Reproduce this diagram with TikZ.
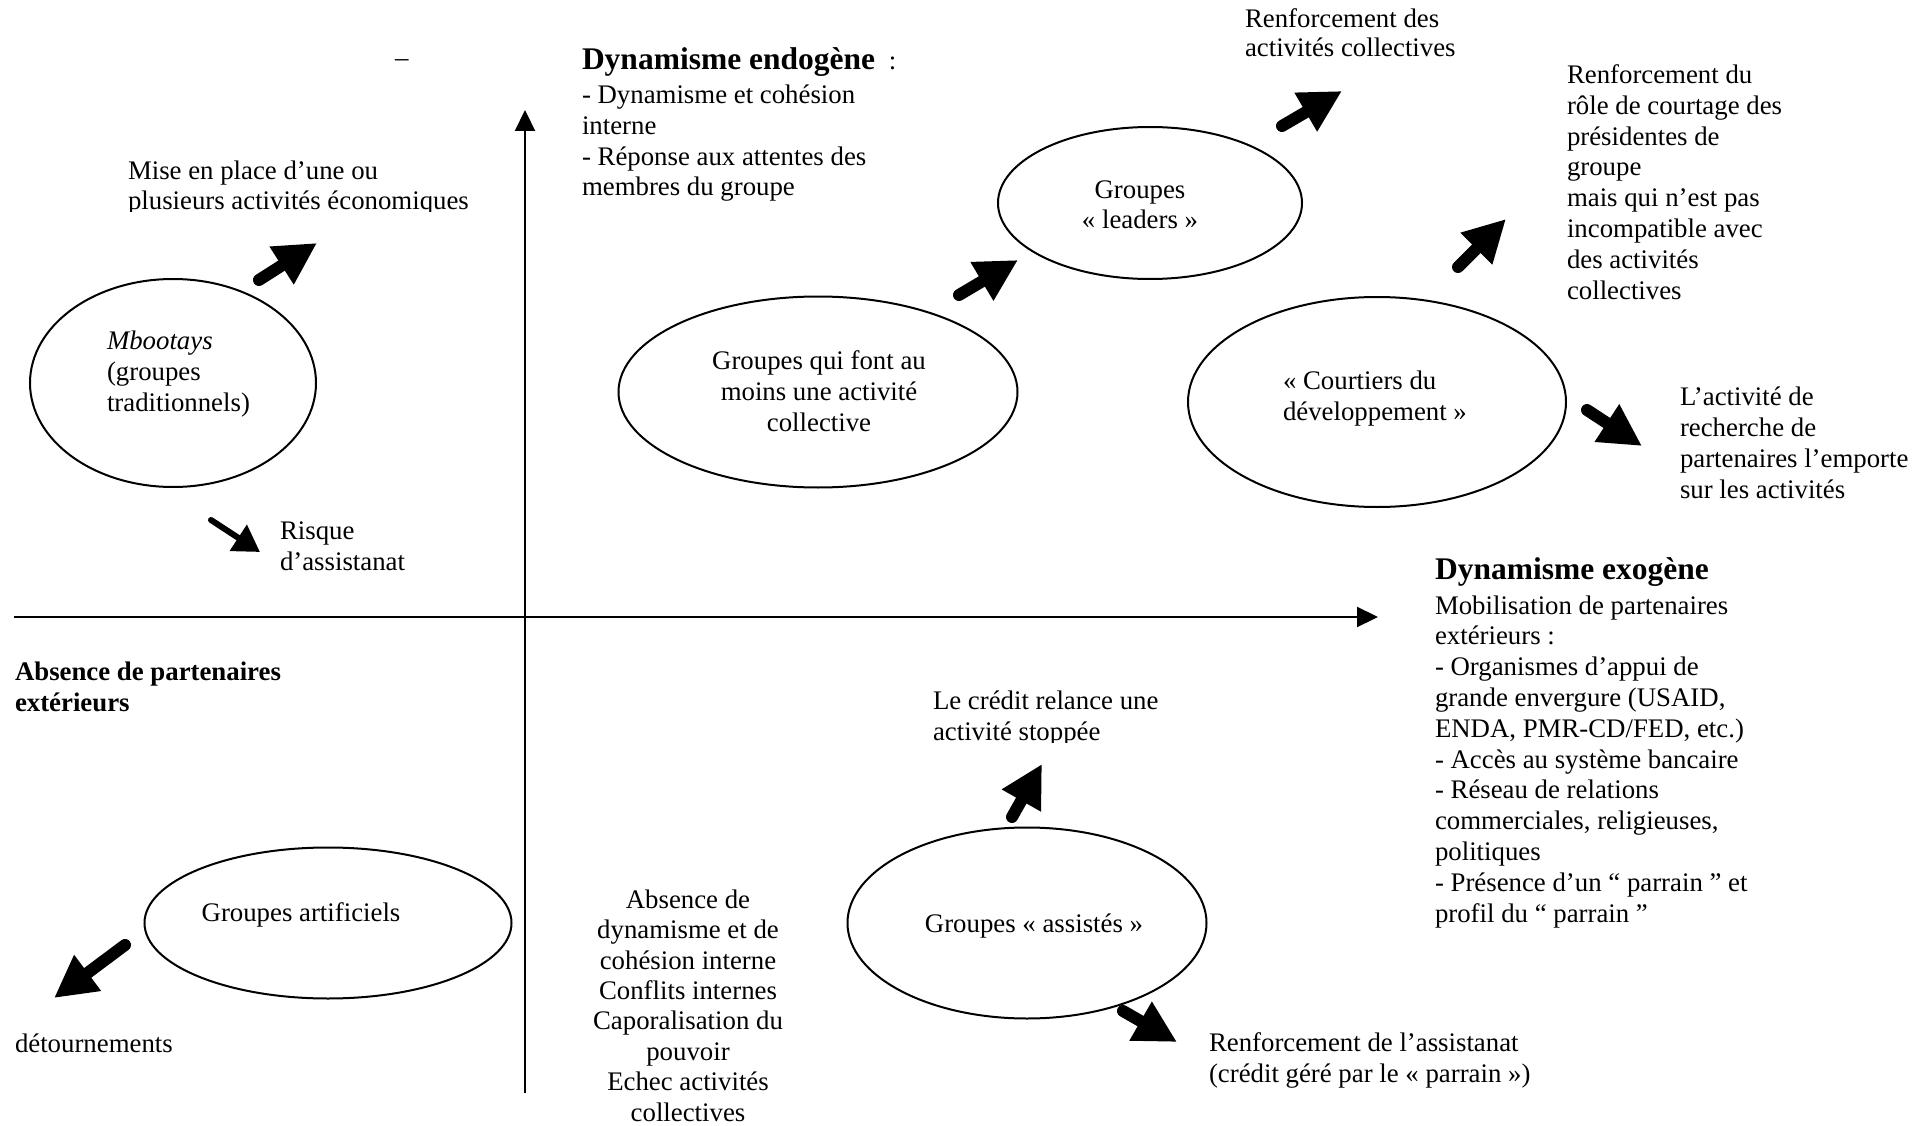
\documentclass[tikz,border=0pt]{standalone}
\usepackage{fontspec}
\setmainfont{Liberation Serif}
\usetikzlibrary{arrows.meta,shapes.geometric}
\begin{document}
\begin{tikzpicture}[x=1pt,y=-1pt,
  every node/.style={inner sep=0pt, outer sep=0pt, font=\fontsize{26.8}{30.8}\selectfont},
  txt/.style={anchor=base west, align=left},
  ctxt/.style={anchor=base, align=center},
  grp/.style={draw, ellipse, line width=2pt},
  axis/.style={line width=2.2pt, -{Triangle[length=21pt,width=20pt]}},
  bigarrow/.style={line width=12pt, line cap=round, -{Triangle[length=42pt,width=42pt]}},
  smallarrow/.style={line width=6pt, line cap=round, -{Triangle[length=26pt,width=30pt]}},
  headfont/.style={font=\fontsize{31.5}{36}\selectfont\bfseries}
]
\useasboundingbox (0,0) rectangle (1931,1126);

% axes (multi-line text nodes below are anchored at the baseline of their LAST line)
\coordinate (vbot) at (525,1093);
\coordinate (vtop) at (525,110);
\coordinate (hleft) at (14,617);
\coordinate (hright) at (1378,617);
\draw[axis] (vbot) -- (vtop);
\draw[axis] (hleft) -- (hright);

% ellipses
\node[grp, minimum width=286pt, minimum height=208pt] (mboo) at (173,383) {};
\node[grp, minimum width=399pt, minimum height=191pt] (coll) at (818,392) {};
\node[grp, minimum width=304pt, minimum height=152pt] (lead) at (1150,203) {};
\node[grp, minimum width=378pt, minimum height=210pt] (court) at (1377,402) {};
\node[grp, minimum width=367pt, minimum height=151pt] (artif) at (328,923) {};
\node[grp, minimum width=359pt, minimum height=191pt] (assist) at (1027,923) {};

% texts
\node[txt] (dash) at (395,67) {–};
\node[txt] (endo) at (582,70) {{\fontsize{31.5}{36}\selectfont\bfseries Dynamisme endogène}\hspace{7pt} :};
\node[txt] (endolist) at (582,196) {- Dynamisme et cohésion\\interne\\- Réponse aux attentes des\\membres du groupe};
\begin{scope}
\clip (100,140) rectangle (520,212);
\node[txt] (mise) at (128,210) {Mise en place d’une ou\\plusieurs activités économiques};
\end{scope}
\node[txt] (mbootxt) at (107,411) {\textit{Mbootays}\\(groupes\\traditionnels)};
\node[txt] (risque) at (280,570) {Risque\\d’assistanat};
\node[ctxt] (colltxt) at (819,431) {Groupes qui font au\\moins une activité\\collective};
\node[ctxt] (leadtxt) at (1140,229) {Groupes\\« leaders »};
\node[txt, font=\fontsize{26.8}{29.6}\selectfont] (renfcoll) at (1245,57) {Renforcement des\\activités collectives};
\node[txt] (renfcourt) at (1567,299) {Renforcement du\\rôle de courtage des\\présidentes de\\groupe\\mais qui n’est pas\\incompatible avec\\des activités\\collectives};
\node[txt] (courttxt) at (1283,420) {« Courtiers du\\développement »};
\node[txt] (recherche) at (1680,498) {L’activité de\\recherche de\\partenaires l’emporte\\sur les activités};
\node[txt, headfont] (exo) at (1435,579) {Dynamisme exogène};
\node[txt] (exolist) at (1435,922) {Mobilisation de partenaires\\extérieurs :\\- Organismes d’appui de\\grande envergure (USAID,\\ENDA, PMR-CD/FED, etc.)\\- Accès au système bancaire\\- Réseau de relations\\commerciales, religieuses,\\politiques\\- Présence d’un “ parrain ” et\\profil du “ parrain ”};
\node[txt] (absence) at (15,711) {\textbf{Absence de partenaires}\\\textbf{extérieurs}};
\node[ctxt] (artiftxt) at (301,921) {Groupes artificiels};
\node[txt] (detour) at (15,1052) {détournements};
\node[ctxt, font=\fontsize{26.8}{30.4}\selectfont] (absdyn) at (688,1121) {Absence de\\dynamisme et de\\cohésion interne\\Conflits internes\\Caporalisation du\\pouvoir\\Echec activités\\collectives};
\begin{scope}
\clip (900,670) rectangle (1200,742);
\node[txt] (credit) at (933,740) {Le crédit relance une\\activité stoppée};
\end{scope}
\node[ctxt] (assisttxt) at (1034,932) {Groupes « assistés »};
\node[txt] (renfassist) at (1209,1082) {Renforcement de l’assistanat\\(crédit géré par le « parrain »)};

% block arrows
\coordinate (aT) at (259,280); \coordinate (aH) at (317,243);
\draw[bigarrow] (aT) -- (aH);
\coordinate (bT) at (211,520); \coordinate (bH) at (260,552);
\draw[smallarrow] (bT) -- (bH);
\coordinate (cT) at (959,295); \coordinate (cH) at (1018,260);
\draw[bigarrow] (cT) -- (cH);
\coordinate (dT) at (1282,126); \coordinate (dH) at (1342,91);
\draw[bigarrow] (dT) -- (dH);
\coordinate (eT) at (1458,267); \coordinate (eH) at (1506,219);
\draw[bigarrow] (eT) -- (eH);
\coordinate (fT) at (1587,410); \coordinate (fH) at (1642,446);
\draw[bigarrow] (fT) -- (fH);
\coordinate (gT) at (125,945); \coordinate (gH) at (54,998);
\draw[bigarrow] (gT) -- (gH);
\coordinate (hT) at (1012,817); \coordinate (hH) at (1042,764);
\draw[bigarrow] (hT) -- (hH);
\coordinate (iT) at (1123,1011); \coordinate (iH) at (1177,1042);
\draw[bigarrow] (iT) -- (iH);
\end{tikzpicture}
\end{document}
